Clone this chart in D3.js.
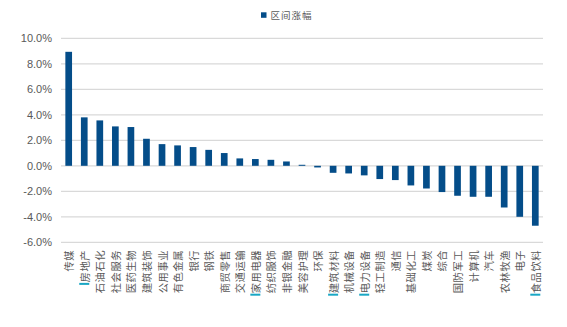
<!DOCTYPE html>
<html><head><meta charset="utf-8">
<script src="https://cdn.jsdelivr.net/npm/d3@7"></script>
<style>
html,body{margin:0;padding:0;background:#fff;}
svg{display:block;}
</style>
</head><body>
<svg id="c" width="567" height="327"></svg>
<script>
const categories = ["传媒","房地产","石油石化","社会服务","医药生物","建筑装饰","公用事业","有色金属","银行","钢铁","商贸零售","交通运输","家用电器","纺织服饰","非银金融","美容护理","环保","建筑材料","机械设备","电力设备","轻工制造","通信","基础化工","煤炭","综合","国防军工","计算机","汽车","农林牧渔","电子","食品饮料"];
const values = [8.94,3.80,3.56,3.09,3.04,2.12,1.70,1.60,1.47,1.25,1.00,0.58,0.53,0.47,0.34,0.08,-0.13,-0.55,-0.60,-0.75,-1.04,-1.12,-1.54,-1.78,-2.06,-2.35,-2.43,-2.43,-3.27,-4.00,-4.70];
const highlighted = ["房地产","家用电器","建筑材料","电力设备","食品饮料"];
const yTicks = [10,8,6,4,2,0,-2,-4,-6];
const seriesName = "区间涨幅";

(function(){
const svg = d3.select("#c");
const pl = 61, pr = 543, pt = 38.3, pb = 242.3;
const x = d3.scaleBand().domain(categories).range([pl, pr]).paddingInner(0.57).paddingOuter(0.28);
const y = d3.scaleLinear().domain([-6, 10]).range([pb, pt]);

svg.append("g").selectAll("line").data(yTicks).join("line")
  .attr("x1", pl).attr("x2", pr)
  .attr("y1", d => y(d)).attr("y2", d => y(d))
  .attr("stroke", "#d9d9d9").attr("stroke-width", 1.3);

const yAxis = d3.axisLeft(y).tickValues(yTicks).tickFormat(d => d.toFixed(1) + "%").tickSize(0).tickPadding(0);
const ga = svg.append("g").attr("transform", "translate(52,0)").call(yAxis);
ga.select(".domain").remove();
ga.selectAll("text").attr("fill", "#595959").style("font-family", "Liberation Sans, Arial, sans-serif").style("font-size", "11px");

svg.append("g").selectAll("rect").data(categories).join("rect")
  .attr("x", d => x(d))
  .attr("width", x.bandwidth())
  .attr("y", (d, i) => y(Math.max(0, values[i])))
  .attr("height", (d, i) => Math.abs(y(values[i]) - y(0)))
  .attr("fill", "#044d89");

const labelTop = 250;
const lg = svg.append("g");
categories.forEach(c => {
  const cx = x(c) + x.bandwidth() / 2;
  const t = lg.append("text")
    .attr("transform", `translate(${cx},${labelTop}) rotate(-90)`)
    .attr("text-anchor", "end")
    .attr("dominant-baseline", "central")
    .attr("fill", "#595959")
    .style("font-family", "Noto Sans CJK SC, sans-serif")
    .style("font-size", "10.3px")
    .style("letter-spacing", "0.5px")
    .text(c);
  if (highlighted.includes(c)) {
    const len = t.node().getComputedTextLength();
    lg.append("rect")
      .attr("x", cx - 5).attr("y", labelTop + len + 0.5)
      .attr("width", 10).attr("height", 2)
      .attr("fill", "#1aa7c4");
  }
});

svg.append("rect").attr("x", 261).attr("y", 12.3).attr("width", 5.5).attr("height", 5.5).attr("fill", "#044d89");
svg.append("text").attr("x", 270.5).attr("y", 15).attr("dominant-baseline", "central")
  .attr("fill", "#595959")
  .style("font-family", "Noto Sans CJK SC, sans-serif")
  .style("font-size", "9.5px").style("letter-spacing", "1px")
  .text(seriesName);
})();
</script>
</body></html>
